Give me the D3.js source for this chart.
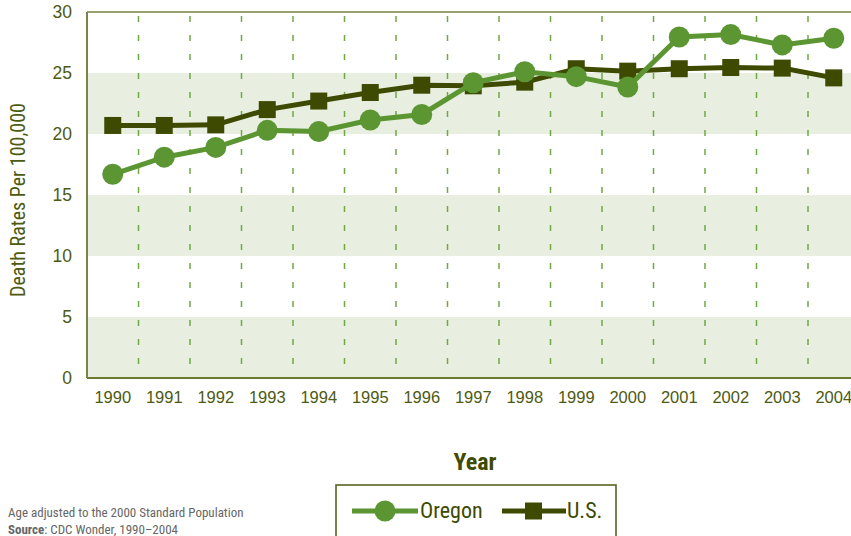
<!DOCTYPE html>
<html lang="en">
<head>
<meta charset="UTF-8">
<script src="https://cdnjs.cloudflare.com/ajax/libs/d3/7.8.5/d3.min.js"></script>
<title>Death Rates</title>
<style>
  body { margin: 0; background: #fff; }
  svg { display: block; font-family: 'Liberation Sans Narrow', 'Roboto Condensed', 'DejaVu Sans Condensed', sans-serif; }
  .tick text { fill: #4d5a12; font-size: 16.5px; }
  .foot { fill: #666; font-size: 13px; }
</style>
</head>
<body>
<svg></svg>
<script>
const years = ['1990','1991','1992','1993','1994','1995','1996','1997','1998','1999','2000','2001','2002','2003','2004']
const oregon = [16.7, 18.1, 18.9, 20.3, 20.2, 21.15, 21.6, 24.2, 25.1, 24.7, 23.85, 27.95, 28.15, 27.3, 27.85]
const us = [20.7, 20.7, 20.75, 22.0, 22.7, 23.4, 24.0, 23.95, 24.25, 25.35, 25.15, 25.35, 25.45, 25.4, 24.6]
const yTicks = [0, 5, 10, 15, 20, 25, 30]
const bands = [[0, 5], [10, 15], [20, 25]]

const W = 851, H = 536
const m = {left: 87, top: 12, bottom: 158}
const svg = d3.select('svg').attr('width', W).attr('height', H)

const x = d3.scaleBand().domain(years).range([m.left, m.left + 15 * 51.5])
const y = d3.scaleLinear().domain([0, 30]).range([H - m.bottom, m.top])
const cx = d => x(d) + x.bandwidth() / 2

// shaded bands
svg.selectAll('.band').data(bands).enter().append('rect')
  .attr('x', m.left).attr('width', W - m.left)
  .attr('y', d => y(d[1])).attr('height', d => y(d[0]) - y(d[1]))
  .attr('fill', '#e9efe0')

// dashed separators between years
svg.selectAll('.sep').data(years.slice(1)).enter().append('line')
  .attr('x1', d => x(d)).attr('x2', d => x(d))
  .attr('y1', y(30)).attr('y2', y(0))
  .attr('stroke', '#6fa845').attr('stroke-width', 1.5)
  .attr('stroke-dasharray', '6,13').attr('stroke-dashoffset', -4)

// frame
svg.append('line').attr('x1', m.left).attr('x2', W).attr('y1', y(30)).attr('y2', y(30))
  .attr('stroke', '#98a070').attr('stroke-width', 2)
svg.append('line').attr('x1', m.left).attr('x2', W).attr('y1', y(0)).attr('y2', y(0))
  .attr('stroke', '#6b7a30').attr('stroke-width', 2)
svg.append('line').attr('x1', m.left).attr('x2', m.left).attr('y1', y(30)).attr('y2', y(0))
  .attr('stroke', '#7a8448').attr('stroke-width', 2)

// axes
const yAxis = svg.append('g').attr('transform', 'translate(' + m.left + ',0)')
  .call(d3.axisLeft(y).tickValues(yTicks).tickSize(0).tickPadding(15))
yAxis.select('.domain').remove()
yAxis.selectAll('.tick text').style('font-size', '17.5px')
const xAxis = svg.append('g').attr('transform', 'translate(0,' + y(0) + ')')
  .call(d3.axisBottom(x).tickSize(0).tickPadding(13))
xAxis.select('.domain').remove()

svg.append('text')
  .attr('transform', 'translate(25,' + 200 + ') rotate(-90)')
  .attr('text-anchor', 'middle').attr('fill', '#4d5a12')
  .style('font-size', '20px').text('Death Rates Per 100,000')

svg.append('text').attr('x', 475).attr('y', 470).attr('text-anchor', 'middle')
  .attr('fill', '#3d4a00').style('font-size', '24px').style('font-weight', 'bold')
  .text('Year')

// lines
const line = d3.line().x((d, i) => cx(years[i])).y(d => y(d))
svg.append('path').datum(us).attr('d', line).attr('fill', 'none')
  .attr('stroke', '#3d4a00').attr('stroke-width', 5)
svg.selectAll('.sq').data(us).enter().append('rect')
  .attr('x', (d, i) => cx(years[i]) - 8.5).attr('y', d => y(d) - 8.5)
  .attr('width', 17).attr('height', 17).attr('fill', '#3d4a00')

svg.append('path').datum(oregon).attr('d', line).attr('fill', 'none')
  .attr('stroke', '#5b9632').attr('stroke-width', 5)
svg.selectAll('.dot').data(oregon).enter().append('circle')
  .attr('cx', (d, i) => cx(years[i])).attr('cy', d => y(d))
  .attr('r', 10.5).attr('fill', '#5b9632')

// legend
const lg = svg.append('g')
lg.append('rect').attr('x', 336).attr('y', 485).attr('width', 280).attr('height', 55)
  .attr('fill', '#fff').attr('stroke', '#4d5a12').attr('stroke-width', 1.5)
lg.append('line').attr('x1', 352).attr('x2', 418).attr('y1', 511).attr('y2', 511)
  .attr('stroke', '#5b9632').attr('stroke-width', 5)
lg.append('circle').attr('cx', 385).attr('cy', 511).attr('r', 10.5).attr('fill', '#5b9632')
lg.append('text').attr('x', 420).attr('y', 518).attr('fill', '#3d4a00')
  .style('font-size', '22px').text('Oregon')
lg.append('line').attr('x1', 502).attr('x2', 566).attr('y1', 511).attr('y2', 511)
  .attr('stroke', '#3d4a00').attr('stroke-width', 5)
lg.append('rect').attr('x', 525).attr('y', 502.5).attr('width', 17).attr('height', 17).attr('fill', '#3d4a00')
lg.append('text').attr('x', 567).attr('y', 518).attr('fill', '#3d4a00')
  .style('font-size', '22px').text('U.S.')

// footnote
svg.append('text').attr('class', 'foot').attr('x', 8).attr('y', 517)
  .text('Age adjusted to the 2000 Standard Population')
const src = svg.append('text').attr('class', 'foot').attr('x', 8).attr('y', 534)
src.append('tspan').style('font-weight', 'bold').text('Source')
src.append('tspan').text(': CDC Wonder, 1990–2004')
</script>
</body>
</html>
